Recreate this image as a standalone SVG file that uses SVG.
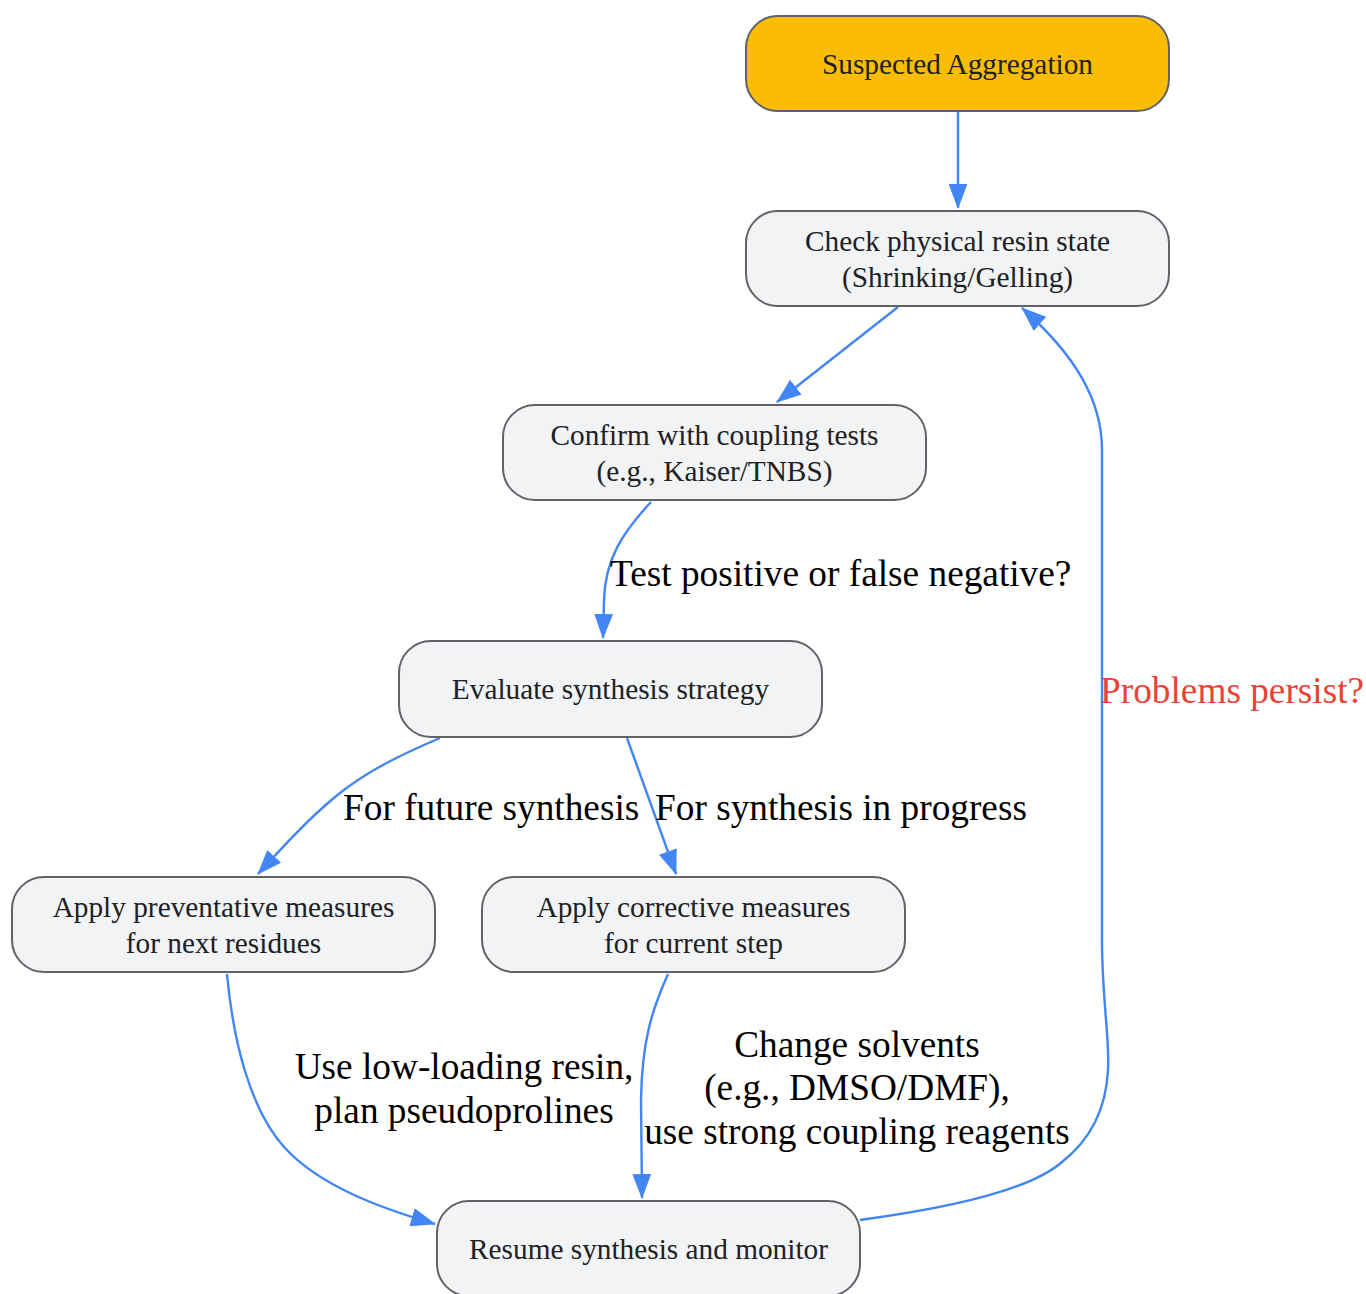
<svg xmlns="http://www.w3.org/2000/svg" width="1366" height="1294" viewBox="0 0 1366 1294">
<style>
.node rect{fill:#F1F3F4;stroke:#5F6368;stroke-width:2}
.node.start rect{fill:#FBBC05}
.node text{font-family:"Liberation Serif","Times New Roman",serif;font-size:29.3px;fill:#202124;text-anchor:middle}
.edge{fill:none;stroke:#4285F4;stroke-width:2.4;marker-end:url(#arrow)}
.lbl{font-family:"Liberation Serif","Times New Roman",serif;font-size:37.3px;fill:#000000}
.lbl.red{fill:#EA4335}
.mid{text-anchor:middle}
</style>
<defs>
<marker id="arrow" viewBox="0 0 24 18" refX="23" refY="9" markerWidth="25" markerHeight="19" markerUnits="userSpaceOnUse" orient="auto">
<path d="M0,0 L24,9 L0,18 z" fill="#4285F4"/>
</marker>
</defs>
<rect width="1366" height="1294" fill="#FFFFFF"/>
<g id="connectors">
<path class="edge" d="M958,111 L958,208"/>
<path class="edge" d="M898,307 L777,402"/>
<path class="edge" d="M651,502 C622,533 605,560 604,600 L603,638"/>
<path class="edge" d="M440,738 C400,755 365,772 335,797 C305,822 280,850 258,874"/>
<path class="edge" d="M627,738 L676,874"/>
<path class="edge" d="M227,974 C233,1040 250,1110 285,1148 C320,1186 380,1208 435,1224"/>
<path class="edge" d="M668,974 C652,1010 642,1040 641,1100 L642,1198"/>
<path class="edge" d="M860,1220 C950,1208 1030,1190 1062,1162 C1090,1140 1106,1110 1108,1070 C1110,1040 1102,1000 1102,940 L1102,450 C1102,400 1075,355 1022,308"/>
<text class="lbl" x="610" y="586">Test positive or false negative?</text>
<text class="lbl" x="343" y="820">For future synthesis</text>
<text class="lbl" x="655" y="820">For synthesis in progress</text>
<text class="lbl red" x="1100" y="703">Problems persist?</text>
<text class="lbl mid" x="464" y="1079">Use low-loading resin,</text>
<text class="lbl mid" x="464" y="1123">plan pseudoprolines</text>
<text class="lbl mid" x="857" y="1057">Change solvents</text>
<text class="lbl mid" x="857" y="1100">(e.g., DMSO/DMF),</text>
<text class="lbl mid" x="857" y="1144">use strong coupling reagents</text>
</g>
<g id="n1" class="node start">
<rect x="746" y="16" width="423" height="95" rx="32" ry="32"/>
<text x="957.5" y="74">Suspected Aggregation</text>
</g>
<g id="n2" class="node">
<rect x="746" y="211" width="423" height="95" rx="32" ry="32"/>
<text x="957.5" y="251">Check physical resin state</text>
<text x="957.5" y="287">(Shrinking/Gelling)</text>
</g>
<g id="n3" class="node">
<rect x="503" y="405" width="423" height="95" rx="32" ry="32"/>
<text x="714.5" y="445">Confirm with coupling tests</text>
<text x="714.5" y="481">(e.g., Kaiser/TNBS)</text>
</g>
<g id="n4" class="node">
<rect x="399" y="641" width="423" height="96" rx="32" ry="32"/>
<text x="610.5" y="699">Evaluate synthesis strategy</text>
</g>
<g id="n5" class="node">
<rect x="12" y="877" width="423" height="95" rx="32" ry="32"/>
<text x="223.5" y="917">Apply preventative measures</text>
<text x="223.5" y="953">for next residues</text>
</g>
<g id="n6" class="node">
<rect x="482" y="877" width="423" height="95" rx="32" ry="32"/>
<text x="693.5" y="917">Apply corrective measures</text>
<text x="693.5" y="953">for current step</text>
</g>
<g id="n7" class="node">
<rect x="437" y="1201" width="423" height="95" rx="32" ry="32"/>
<text x="648.5" y="1259">Resume synthesis and monitor</text>
</g>
</svg>
